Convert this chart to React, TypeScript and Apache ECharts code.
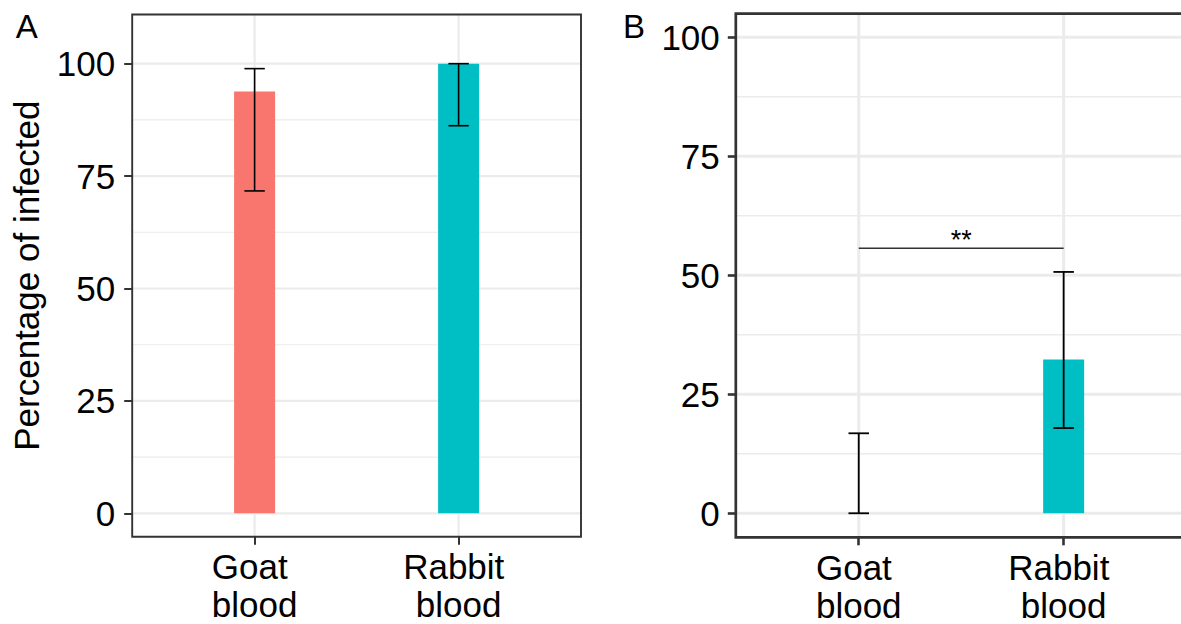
import React, { useEffect, useRef } from "react";
import * as echarts from "echarts";

// ---- data ----
const categories = ["Goat\u00a0\nblood", "Rabbit\u00a0\nblood"];
const catPos = [0, 1];
const yTicks = [0, 25, 50, 75, 100];
const yMinor = [12.5, 37.5, 62.5, 87.5];
const barColors = ["#F8766D", "#00BFC4"];

// Panel A
const meanA = [93.8, 100];
const lowA = [71.7, 86.2];
const highA = [98.9, 100];

// Panel B
const meanB = [0, 32.3];
const lowB = [0, 17.9];
const highB = [16.8, 50.7];

// significance bracket (panel B)
const sigFrom = [0];
const sigTo = [1];
const sigY = [55.7];
const sigLabel = ["**"];

const FONT = "'Liberation Sans', Arial, Helvetica, sans-serif";

// grid-line items: [x, y, isVertical, isMajor]
function gridLineData() {
  const d: number[][] = [];
  yTicks.forEach((v) => d.push([0, v, 0, 1]));
  yMinor.forEach((v) => d.push([0, v, 0, 0]));
  catPos.forEach((v) => d.push([v, 0, 1, 1]));
  return d;
}

function gridRender(major: number, minor: number) {
  return (params: any, api: any) => {
    const cs = params.coordSys;
    const vertical = api.value(2) === 1;
    const w = api.value(3) === 1 ? major : minor;
    const p = api.coord([api.value(0), api.value(1)]);
    const shape = vertical
      ? { x1: p[0], y1: cs.y, x2: p[0], y2: cs.y + cs.height }
      : { x1: cs.x, y1: p[1], x2: cs.x + cs.width, y2: p[1] };
    return { type: "line", shape, style: { stroke: "#EBEBEB", lineWidth: w } };
  };
}

function errRender(capHalf: number, lw: number) {
  return (params: any, api: any) => {
    const x = api.value(0);
    const lo = api.value(1);
    const hi = api.value(2);
    const pLo = api.coord([x, lo]);
    const pHi = api.coord([x, hi]);
    const half = api.size([capHalf, 0])[0];
    const style = { stroke: "#000", lineWidth: lw, fill: null };
    return {
      type: "group",
      children: [
        { type: "line", shape: { x1: pLo[0], y1: pLo[1], x2: pHi[0], y2: pHi[1] }, style },
        { type: "line", shape: { x1: pLo[0] - half, y1: pLo[1], x2: pLo[0] + half, y2: pLo[1] }, style },
        { type: "line", shape: { x1: pHi[0] - half, y1: pHi[1], x2: pHi[0] + half, y2: pHi[1] }, style },
      ],
    };
  };
}

function xAxisCfg(gridIndex: number, tickW: number) {
  return {
    type: "value",
    gridIndex,
    min: -0.6,
    max: 1.6,
    axisLine: { show: false, onZero: false },
    axisTick: { show: true, customValues: catPos, length: 8, lineStyle: { color: "#333", width: tickW } },
    axisLabel: {
      show: true,
      customValues: catPos,
      formatter: (v: number) => categories[Math.round(v)] ?? "",
      fontSize: 35,
      lineHeight: 38,
      color: "#000",
      fontFamily: FONT,
      margin: 11,
      verticalAlign: "top",
    },
    splitLine: { show: false },
  };
}

function yAxisCfg(gridIndex: number, min: number, max: number, tickW: number, margin: number, name?: string) {
  return {
    type: "value",
    gridIndex,
    min,
    max,
    name: name ?? "",
    nameLocation: "middle",
    nameGap: 88,
    nameRotate: 90,
    nameTextStyle: { fontSize: 35, color: "#000", fontFamily: FONT },
    axisLine: { show: false, onZero: false },
    axisTick: { show: true, customValues: yTicks, length: 8, lineStyle: { color: "#333", width: tickW } },
    axisLabel: {
      show: true,
      customValues: yTicks,
      formatter: (v: number) => String(v),
      fontSize: 35,
      color: "#000",
      fontFamily: FONT,
      margin,
    },
    splitLine: { show: false },
  };
}

export default function App() {
  const ref = useRef<HTMLDivElement>(null);
  useEffect(() => {
    if (!ref.current) return;
    const chart = echarts.init(ref.current, undefined, { renderer: "svg" });
    const barA = meanA.map((v, i) => ({ value: [catPos[i], v], itemStyle: { color: barColors[i] } }));
    const barB = meanB.map((v, i) => ({ value: [catPos[i], v], itemStyle: { color: barColors[i] } }));
    const errA = catPos.map((x, i) => [x, lowA[i], highA[i]]);
    const errB = catPos.map((x, i) => [x, lowB[i], highB[i]]);
    const sig = sigFrom.map((f, i) => [f, sigTo[i], sigY[i]]);
    const gl = gridLineData();

    chart.setOption({
      animation: false,
      backgroundColor: "#fff",
      textStyle: { fontFamily: FONT },
      grid: [
        { left: 132.2, top: 14.5, width: 448.8, height: 522.3, show: true, z: 3, outerBoundsMode: "none", containLabel: false, backgroundColor: "transparent", borderColor: "#333", borderWidth: 1.9 },
        { left: 735.8, top: 13.7, width: 450.8, height: 523.6, show: true, z: 3, outerBoundsMode: "none", containLabel: false, backgroundColor: "transparent", borderColor: "#333", borderWidth: 2.7 },
      ],
      xAxis: [xAxisCfg(0, 2), xAxisCfg(1, 2.6)],
      yAxis: [
        yAxisCfg(0, -5.23, 110.94, 2, 17, "Percentage of infected"),
        yAxisCfg(1, -5.05, 104.95, 2.6, 16),
      ],
      graphic: [
        { type: "text", x: 26.7, y: 26.7, style: { text: "A", fontSize: 33, fill: "#000", fontFamily: FONT, align: "center", verticalAlign: "middle" } },
        { type: "text", x: 634, y: 26.2, style: { text: "B", fontSize: 33, fill: "#000", fontFamily: FONT, align: "center", verticalAlign: "middle" } },
      ],
      series: [
        { type: "custom", xAxisIndex: 0, yAxisIndex: 0, data: gl, z: 0, silent: true, clip: false, encode: { x: 0, y: 1 }, renderItem: gridRender(2.2, 1.1) },
        { type: "custom", xAxisIndex: 1, yAxisIndex: 1, data: gl, z: 0, silent: true, clip: false, encode: { x: 0, y: 1 }, renderItem: gridRender(3, 1.6) },
        { type: "bar", xAxisIndex: 0, yAxisIndex: 0, data: barA, barWidth: 41, z: 2, silent: true },
        { type: "bar", xAxisIndex: 1, yAxisIndex: 1, data: barB, barWidth: 41, z: 2, silent: true },
        { type: "custom", xAxisIndex: 0, yAxisIndex: 0, data: errA, renderItem: errRender(0.05, 1.6), z: 4, silent: true, encode: { x: 0, y: [1, 2] } },
        { type: "custom", xAxisIndex: 1, yAxisIndex: 1, data: errB, renderItem: errRender(0.05, 1.8), z: 4, silent: true, encode: { x: 0, y: [1, 2] } },
        {
          type: "custom",
          xAxisIndex: 1,
          yAxisIndex: 1,
          data: sig,
          z: 4,
          silent: true,
          encode: { x: [0, 1], y: 2 },
          renderItem: (params: any, api: any) => {
            const p1 = api.coord([api.value(0), api.value(2)]);
            const p2 = api.coord([api.value(1), api.value(2)]);
            return {
              type: "group",
              children: [
                { type: "line", shape: { x1: p1[0], y1: p1[1], x2: p2[0], y2: p2[1] }, style: { stroke: "#333", lineWidth: 1.5 } },
                {
                  type: "text",
                  x: (p1[0] + p2[0]) / 2,
                  y: p1[1] - 8,
                  style: { text: sigLabel[params.dataIndex], fontSize: 27, fill: "#000", fontFamily: FONT, align: "center", verticalAlign: "middle" },
                },
              ],
            };
          },
        },
      ],
    });
    return () => chart.dispose();
  }, []);
  return <div ref={ref} style={{ position: "fixed", left: 0, top: 0, width: 1181, height: 624 }} />;
}
